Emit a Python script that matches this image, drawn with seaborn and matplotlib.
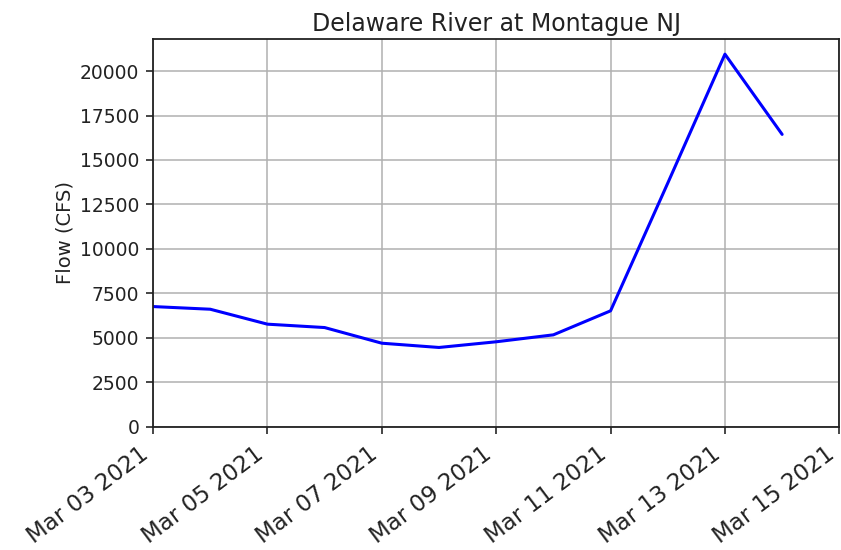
import matplotlib
matplotlib.use("Agg")
import matplotlib.pyplot as plt
import matplotlib.dates as mdates
import seaborn as sns
import pandas as pd

# daily mean flow
dates = pd.date_range("2021-03-03", "2021-03-14", freq="D")
flow = [6760, 6610, 5770, 5580, 4700, 4460, 4780, 5170, 6520, 13700, 20950, 16440]

df = pd.DataFrame({"date": dates, "flow": flow})

sns.set_style("white")
plt.rcParams["font.family"] = ["DejaVu Sans"]
plt.rcParams["text.color"] = "#222222"

fig, ax = plt.subplots(figsize=(8.41, 5.5), dpi=100)
sns.lineplot(data=df, x="date", y="flow", color="blue", linewidth=2.2, ax=ax)

ax.set_title("Delaware River at Montague NJ", fontsize=17, color="#222222")
ax.set_xlabel("")
ax.set_ylabel("Flow (CFS)", fontsize=14, color="#222222")
ax.set_xlim(pd.Timestamp("2021-03-03"), pd.Timestamp("2021-03-15"))
ax.set_ylim(0, 21800)
ax.xaxis.set_major_locator(mdates.DayLocator(interval=2))
ax.xaxis.set_major_formatter(mdates.DateFormatter("%b %d %Y"))
plt.setp(ax.get_xticklabels(), rotation=37, ha="right", fontsize=16.5, color="#222222")
ax.tick_params(axis="y", labelsize=13.5, labelcolor="#222222")
ax.tick_params(axis="both", direction="out", length=5, width=1.2, pad=5,
               bottom=True, left=True)
ax.tick_params(axis="x", pad=6)
ax.grid(True, color="#b0b0b0", linewidth=1.1)
for s in ax.spines.values():
    s.set_color("#222222")
    s.set_linewidth(1.3)

fig.subplots_adjust(left=0.182, right=0.998, top=0.929, bottom=0.224)
fig.savefig("out.png")
